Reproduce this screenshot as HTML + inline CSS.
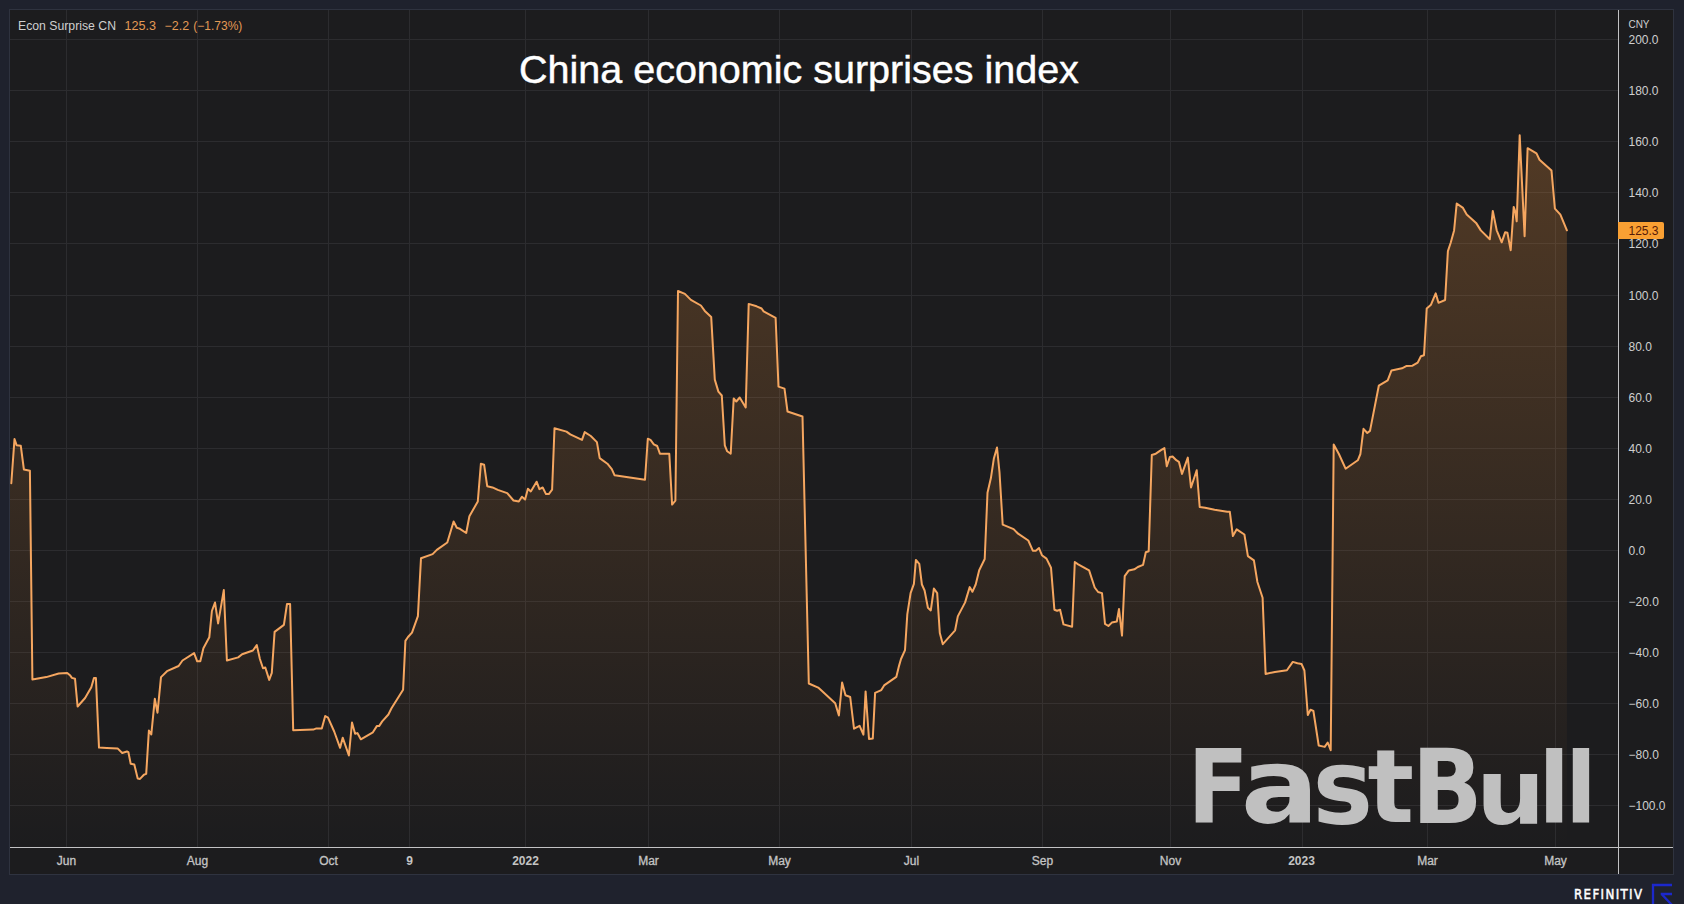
<!DOCTYPE html>
<html><head><meta charset="utf-8"><title>China economic surprises index</title>
<style>
html,body{margin:0;padding:0;width:1684px;height:904px;overflow:hidden;background:#1f222d;}
svg{display:block;position:absolute;left:0;top:0}
.t{font-family:"Liberation Sans",Arial,sans-serif;}
</style></head><body>
<svg width="1684" height="904" viewBox="0 0 1684 904">
<defs>
<linearGradient id="fg" x1="0" y1="130" x2="0" y2="847" gradientUnits="userSpaceOnUse">
<stop offset="0" stop-color="#f5953a" stop-opacity="0.25"/>
<stop offset="1" stop-color="#f5953a" stop-opacity="0"/>
</linearGradient>
</defs>
<rect x="9.5" y="9.5" width="1664" height="865" fill="#1c1c1e" stroke="#2f333f" stroke-width="1"/>
<g stroke="#2c2c2f" stroke-width="1" shape-rendering="crispEdges">
<line x1="66.5" y1="10" x2="66.5" y2="847" />
<line x1="197.5" y1="10" x2="197.5" y2="847" />
<line x1="328.5" y1="10" x2="328.5" y2="847" />
<line x1="409.5" y1="10" x2="409.5" y2="847" />
<line x1="525.5" y1="10" x2="525.5" y2="847" />
<line x1="648.5" y1="10" x2="648.5" y2="847" />
<line x1="779.5" y1="10" x2="779.5" y2="847" />
<line x1="911.5" y1="10" x2="911.5" y2="847" />
<line x1="1042.5" y1="10" x2="1042.5" y2="847" />
<line x1="1170.5" y1="10" x2="1170.5" y2="847" />
<line x1="1302.5" y1="10" x2="1302.5" y2="847" />
<line x1="1427.5" y1="10" x2="1427.5" y2="847" />
<line x1="1555.5" y1="10" x2="1555.5" y2="847" />
<line x1="10" y1="39.5" x2="1618" y2="39.5" />
<line x1="10" y1="90.5" x2="1618" y2="90.5" />
<line x1="10" y1="141.5" x2="1618" y2="141.5" />
<line x1="10" y1="192.5" x2="1618" y2="192.5" />
<line x1="10" y1="243.5" x2="1618" y2="243.5" />
<line x1="10" y1="295.5" x2="1618" y2="295.5" />
<line x1="10" y1="346.5" x2="1618" y2="346.5" />
<line x1="10" y1="397.5" x2="1618" y2="397.5" />
<line x1="10" y1="448.5" x2="1618" y2="448.5" />
<line x1="10" y1="499.5" x2="1618" y2="499.5" />
<line x1="10" y1="550.5" x2="1618" y2="550.5" />
<line x1="10" y1="601.5" x2="1618" y2="601.5" />
<line x1="10" y1="652.5" x2="1618" y2="652.5" />
<line x1="10" y1="703.5" x2="1618" y2="703.5" />
<line x1="10" y1="754.5" x2="1618" y2="754.5" />
<line x1="10" y1="805.5" x2="1618" y2="805.5" />
</g>
<path d="M10,847 L10,483.2 L11.3,483.2 L14.5,439.1 L16.6,445.2 L20.8,445.8 L23.9,469.5 L29.9,470.8 L32.4,679.4 L46.3,677.1 L58.7,673.5 L67.2,672.9 L70.3,675.6 L71.9,677.9 L75.0,678.7 L77.6,706.5 L85.1,698.0 L91.3,687.2 L94.0,677.9 L95.9,677.9 L99.0,747.6 L106.7,747.9 L117.6,748.4 L122.2,753.0 L126.9,751.5 L128.4,752.2 L130.7,763.8 L134.3,764.6 L137.7,778.6 L140.0,778.9 L143.9,774.7 L146.2,773.9 L148.9,730.5 L151.3,734.4 L154.8,698.8 L157.5,712.7 L161.0,677.1 L167.0,671.2 L178.6,666.0 L182.5,660.5 L194.1,653.1 L197.2,661.3 L200.3,661.3 L203.4,648.2 L209.3,637.3 L211.9,611.0 L215.0,602.5 L218.1,623.4 L223.8,590.1 L226.9,660.5 L238.2,657.4 L242.1,654.3 L252.9,650.5 L256.8,645.1 L259.9,659.0 L263.0,668.3 L265.3,667.5 L269.2,679.9 L271.8,672.9 L274.6,631.9 L283.9,624.9 L287.0,604.0 L290.1,604.0 L293.2,730.3 L313.3,729.6 L316.4,728.4 L321.8,728.4 L325.2,716.0 L328.0,717.6 L334.2,731.5 L340.1,747.8 L342.7,737.7 L348.9,755.5 L352.0,722.5 L355.1,733.8 L357.4,733.1 L360.8,739.3 L372.9,732.3 L376.8,726.1 L379.1,726.1 L382.2,721.4 L388.4,714.5 L391.5,708.3 L403.1,689.7 L405.4,640.9 L408.0,637.0 L412.0,632.6 L417.9,616.1 L421.0,558.3 L432.6,554.1 L436.8,549.9 L447.3,542.5 L453.6,521.5 L456.8,527.8 L459.9,528.8 L466.2,533.0 L469.4,516.2 L477.8,501.5 L480.9,463.7 L484.1,464.7 L487.2,486.2 L492.5,487.4 L497.8,489.9 L507.2,493.1 L513.5,500.5 L518.8,501.5 L521.9,496.7 L525.1,499.5 L527.9,488.7 L530.8,491.4 L536.6,481.7 L539.4,489.1 L542.7,487.5 L546.0,494.1 L548.8,494.1 L552.1,489.7 L554.5,428.3 L566.5,431.6 L570.3,434.4 L582.0,439.9 L584.7,432.1 L590.8,436.0 L596.9,442.1 L599.7,458.1 L607.4,463.7 L611.8,469.2 L614.6,475.3 L645.0,479.7 L647.8,438.8 L650.5,439.9 L653.8,444.3 L657.2,446.0 L659.9,453.7 L669.3,453.7 L672.1,504.6 L675.4,500.7 L678.0,291.0 L684.9,293.9 L688.9,297.9 L690.9,299.9 L700.9,305.5 L704.8,310.9 L711.2,316.9 L714.8,379.6 L718.4,391.6 L721.8,395.5 L724.8,445.3 L727.2,451.3 L730.7,453.7 L733.7,398.5 L736.3,401.5 L739.7,397.5 L745.7,407.5 L748.7,303.9 L756.6,306.3 L761.6,308.5 L763.6,311.3 L775.6,317.8 L778.5,386.6 L784.5,388.6 L787.5,411.5 L802.5,416.5 L808.8,683.5 L818.2,687.6 L822.0,691.0 L835.2,703.3 L838.9,715.5 L842.1,682.6 L845.5,695.2 L850.2,697.0 L854.0,728.7 L859.6,725.8 L863.4,734.7 L865.6,691.4 L869.0,739.0 L872.8,738.4 L875.1,692.9 L881.3,690.1 L884.1,685.4 L896.3,676.9 L899.1,665.6 L901.0,659.0 L905.0,650.2 L907.3,614.4 L910.6,593.1 L913.9,583.8 L915.9,559.9 L919.3,563.9 L921.9,584.5 L924.6,590.5 L927.9,607.7 L930.8,610.4 L933.9,588.5 L937.2,593.1 L939.8,633.0 L942.8,644.2 L955.1,630.3 L957.8,616.4 L965.1,602.4 L969.7,587.1 L972.4,591.8 L975.7,584.5 L979.2,570.3 L984.7,559.0 L987.5,492.8 L990.9,478.1 L993.8,458.8 L997.0,447.5 L999.5,472.4 L1002.7,524.6 L1013.6,529.1 L1018.1,533.7 L1028.3,540.5 L1032.8,550.7 L1035.8,550.7 L1039.0,548.0 L1041.9,555.2 L1046.5,558.6 L1051.0,567.7 L1054.4,609.7 L1057.1,610.8 L1060.1,609.7 L1063.5,624.4 L1072.1,626.7 L1074.8,562.0 L1078.2,564.3 L1089.1,570.4 L1094.7,587.5 L1098.1,592.0 L1102.0,593.1 L1105.0,623.8 L1108.4,626.0 L1111.8,622.6 L1116.8,621.5 L1119.0,609.0 L1122.0,635.6 L1124.7,576.1 L1128.8,570.4 L1134.4,569.3 L1137.8,567.0 L1143.1,564.8 L1145.8,552.3 L1148.7,551.2 L1151.8,455.0 L1155.8,453.7 L1161.0,450.2 L1164.4,448.1 L1166.8,466.3 L1169.9,456.9 L1172.6,456.5 L1176.3,460.2 L1178.9,461.8 L1182.0,473.9 L1187.8,457.6 L1191.0,487.5 L1196.7,470.2 L1199.7,507.0 L1205.1,507.7 L1214.6,509.8 L1227.2,511.7 L1229.8,511.7 L1232.9,536.0 L1236.7,529.3 L1244.4,534.5 L1247.9,556.1 L1253.9,560.4 L1257.4,582.0 L1262.6,597.8 L1265.6,673.9 L1274.9,671.9 L1286.9,670.3 L1292.8,661.9 L1297.5,663.2 L1301.5,663.9 L1304.4,670.5 L1307.8,715.0 L1310.5,709.7 L1313.4,711.0 L1318.7,745.5 L1324.7,746.9 L1327.7,742.5 L1330.7,750.2 L1333.7,444.5 L1338.9,454.0 L1345.6,468.7 L1357.8,460.3 L1360.4,454.0 L1363.5,428.8 L1367.3,433.0 L1370.0,430.9 L1378.8,385.7 L1387.7,380.4 L1391.5,370.4 L1402.0,368.3 L1406.2,366.1 L1412.5,365.7 L1417.7,362.6 L1420.9,356.3 L1424.0,355.2 L1426.7,308.5 L1431.0,304.7 L1435.7,293.4 L1438.5,302.8 L1445.1,300.0 L1447.9,251.1 L1450.7,242.7 L1454.1,230.4 L1456.7,203.5 L1463.0,207.9 L1466.7,214.4 L1476.1,222.9 L1480.8,230.4 L1489.8,239.3 L1492.8,210.9 L1496.7,230.3 L1501.7,242.3 L1505.2,232.2 L1507.4,232.8 L1510.7,250.2 L1513.7,206.9 L1515.2,211.3 L1516.7,221.3 L1519.7,135.2 L1524.6,236.3 L1527.6,148.2 L1536.5,153.4 L1539.5,159.7 L1551.5,170.6 L1554.9,208.6 L1560.4,214.6 L1566.9,230.3 L1566.9,847 Z" fill="url(#fg)"/>
<polyline points="11.3,483.2 14.5,439.1 16.6,445.2 20.8,445.8 23.9,469.5 29.9,470.8 32.4,679.4 46.3,677.1 58.7,673.5 67.2,672.9 70.3,675.6 71.9,677.9 75.0,678.7 77.6,706.5 85.1,698.0 91.3,687.2 94.0,677.9 95.9,677.9 99.0,747.6 106.7,747.9 117.6,748.4 122.2,753.0 126.9,751.5 128.4,752.2 130.7,763.8 134.3,764.6 137.7,778.6 140.0,778.9 143.9,774.7 146.2,773.9 148.9,730.5 151.3,734.4 154.8,698.8 157.5,712.7 161.0,677.1 167.0,671.2 178.6,666.0 182.5,660.5 194.1,653.1 197.2,661.3 200.3,661.3 203.4,648.2 209.3,637.3 211.9,611.0 215.0,602.5 218.1,623.4 223.8,590.1 226.9,660.5 238.2,657.4 242.1,654.3 252.9,650.5 256.8,645.1 259.9,659.0 263.0,668.3 265.3,667.5 269.2,679.9 271.8,672.9 274.6,631.9 283.9,624.9 287.0,604.0 290.1,604.0 293.2,730.3 313.3,729.6 316.4,728.4 321.8,728.4 325.2,716.0 328.0,717.6 334.2,731.5 340.1,747.8 342.7,737.7 348.9,755.5 352.0,722.5 355.1,733.8 357.4,733.1 360.8,739.3 372.9,732.3 376.8,726.1 379.1,726.1 382.2,721.4 388.4,714.5 391.5,708.3 403.1,689.7 405.4,640.9 408.0,637.0 412.0,632.6 417.9,616.1 421.0,558.3 432.6,554.1 436.8,549.9 447.3,542.5 453.6,521.5 456.8,527.8 459.9,528.8 466.2,533.0 469.4,516.2 477.8,501.5 480.9,463.7 484.1,464.7 487.2,486.2 492.5,487.4 497.8,489.9 507.2,493.1 513.5,500.5 518.8,501.5 521.9,496.7 525.1,499.5 527.9,488.7 530.8,491.4 536.6,481.7 539.4,489.1 542.7,487.5 546.0,494.1 548.8,494.1 552.1,489.7 554.5,428.3 566.5,431.6 570.3,434.4 582.0,439.9 584.7,432.1 590.8,436.0 596.9,442.1 599.7,458.1 607.4,463.7 611.8,469.2 614.6,475.3 645.0,479.7 647.8,438.8 650.5,439.9 653.8,444.3 657.2,446.0 659.9,453.7 669.3,453.7 672.1,504.6 675.4,500.7 678.0,291.0 684.9,293.9 688.9,297.9 690.9,299.9 700.9,305.5 704.8,310.9 711.2,316.9 714.8,379.6 718.4,391.6 721.8,395.5 724.8,445.3 727.2,451.3 730.7,453.7 733.7,398.5 736.3,401.5 739.7,397.5 745.7,407.5 748.7,303.9 756.6,306.3 761.6,308.5 763.6,311.3 775.6,317.8 778.5,386.6 784.5,388.6 787.5,411.5 802.5,416.5 808.8,683.5 818.2,687.6 822.0,691.0 835.2,703.3 838.9,715.5 842.1,682.6 845.5,695.2 850.2,697.0 854.0,728.7 859.6,725.8 863.4,734.7 865.6,691.4 869.0,739.0 872.8,738.4 875.1,692.9 881.3,690.1 884.1,685.4 896.3,676.9 899.1,665.6 901.0,659.0 905.0,650.2 907.3,614.4 910.6,593.1 913.9,583.8 915.9,559.9 919.3,563.9 921.9,584.5 924.6,590.5 927.9,607.7 930.8,610.4 933.9,588.5 937.2,593.1 939.8,633.0 942.8,644.2 955.1,630.3 957.8,616.4 965.1,602.4 969.7,587.1 972.4,591.8 975.7,584.5 979.2,570.3 984.7,559.0 987.5,492.8 990.9,478.1 993.8,458.8 997.0,447.5 999.5,472.4 1002.7,524.6 1013.6,529.1 1018.1,533.7 1028.3,540.5 1032.8,550.7 1035.8,550.7 1039.0,548.0 1041.9,555.2 1046.5,558.6 1051.0,567.7 1054.4,609.7 1057.1,610.8 1060.1,609.7 1063.5,624.4 1072.1,626.7 1074.8,562.0 1078.2,564.3 1089.1,570.4 1094.7,587.5 1098.1,592.0 1102.0,593.1 1105.0,623.8 1108.4,626.0 1111.8,622.6 1116.8,621.5 1119.0,609.0 1122.0,635.6 1124.7,576.1 1128.8,570.4 1134.4,569.3 1137.8,567.0 1143.1,564.8 1145.8,552.3 1148.7,551.2 1151.8,455.0 1155.8,453.7 1161.0,450.2 1164.4,448.1 1166.8,466.3 1169.9,456.9 1172.6,456.5 1176.3,460.2 1178.9,461.8 1182.0,473.9 1187.8,457.6 1191.0,487.5 1196.7,470.2 1199.7,507.0 1205.1,507.7 1214.6,509.8 1227.2,511.7 1229.8,511.7 1232.9,536.0 1236.7,529.3 1244.4,534.5 1247.9,556.1 1253.9,560.4 1257.4,582.0 1262.6,597.8 1265.6,673.9 1274.9,671.9 1286.9,670.3 1292.8,661.9 1297.5,663.2 1301.5,663.9 1304.4,670.5 1307.8,715.0 1310.5,709.7 1313.4,711.0 1318.7,745.5 1324.7,746.9 1327.7,742.5 1330.7,750.2 1333.7,444.5 1338.9,454.0 1345.6,468.7 1357.8,460.3 1360.4,454.0 1363.5,428.8 1367.3,433.0 1370.0,430.9 1378.8,385.7 1387.7,380.4 1391.5,370.4 1402.0,368.3 1406.2,366.1 1412.5,365.7 1417.7,362.6 1420.9,356.3 1424.0,355.2 1426.7,308.5 1431.0,304.7 1435.7,293.4 1438.5,302.8 1445.1,300.0 1447.9,251.1 1450.7,242.7 1454.1,230.4 1456.7,203.5 1463.0,207.9 1466.7,214.4 1476.1,222.9 1480.8,230.4 1489.8,239.3 1492.8,210.9 1496.7,230.3 1501.7,242.3 1505.2,232.2 1507.4,232.8 1510.7,250.2 1513.7,206.9 1515.2,211.3 1516.7,221.3 1519.7,135.2 1524.6,236.3 1527.6,148.2 1536.5,153.4 1539.5,159.7 1551.5,170.6 1554.9,208.6 1560.4,214.6 1566.9,230.3" fill="none" stroke="#f5a660" stroke-width="2" stroke-linejoin="round" stroke-linecap="round"/>
<g shape-rendering="crispEdges" stroke="#c2c2c4" stroke-width="1">
<line x1="1618.5" y1="10" x2="1618.5" y2="874"/>
<line x1="10" y1="847.5" x2="1673" y2="847.5"/>
</g>
<g class="t" font-size="12" fill="#cfcfcf">
<text x="1628.5" y="28" font-size="11.5" textLength="21" lengthAdjust="spacingAndGlyphs">CNY</text>
<text x="1628.5" y="43.8">200.0</text>
<text x="1628.5" y="94.8">180.0</text>
<text x="1628.5" y="145.8">160.0</text>
<text x="1628.5" y="196.8">140.0</text>
<text x="1628.5" y="247.8">120.0</text>
<text x="1628.5" y="299.8">100.0</text>
<text x="1628.5" y="350.8">80.0</text>
<text x="1628.5" y="401.8">60.0</text>
<text x="1628.5" y="452.8">40.0</text>
<text x="1628.5" y="503.8">20.0</text>
<text x="1628.5" y="554.8">0.0</text>
<text x="1628.5" y="605.8">−20.0</text>
<text x="1628.5" y="656.8">−40.0</text>
<text x="1628.5" y="707.8">−60.0</text>
<text x="1628.5" y="758.8">−80.0</text>
<text x="1628.5" y="809.8">−100.0</text>
</g>
<g class="t" font-size="12" fill="#c4c4c4" stroke="#c4c4c4" stroke-width="0.3">
<text x="66.5" y="865" text-anchor="middle">Jun</text>
<text x="197.5" y="865" text-anchor="middle">Aug</text>
<text x="328.5" y="865" text-anchor="middle">Oct</text>
<text x="409.5" y="865" text-anchor="middle" font-weight="bold" stroke-width="0">9</text>
<text x="525.5" y="865" text-anchor="middle" font-weight="bold" stroke-width="0">2022</text>
<text x="648.5" y="865" text-anchor="middle">Mar</text>
<text x="779.5" y="865" text-anchor="middle">May</text>
<text x="911.5" y="865" text-anchor="middle">Jul</text>
<text x="1042.5" y="865" text-anchor="middle">Sep</text>
<text x="1170.5" y="865" text-anchor="middle">Nov</text>
<text x="1301.5" y="865" text-anchor="middle" font-weight="bold" stroke-width="0">2023</text>
<text x="1427.5" y="865" text-anchor="middle">Mar</text>
<text x="1555.5" y="865" text-anchor="middle">May</text>
</g>
<path d="M1618,222 H1662 A2,2 0 0 1 1664,224 V237 A2,2 0 0 1 1662,239 H1618 Z" fill="#f9a033"/>
<text class="t" x="1628.5" y="235.3" font-size="12" fill="#561a08">125.3</text>
<g class="t" font-size="12">
<text x="18" y="30" fill="#cfcfcf" textLength="98" lengthAdjust="spacingAndGlyphs">Econ Surprise CN</text>
<text x="124.5" y="30" fill="#e39a55" textLength="31.5" lengthAdjust="spacingAndGlyphs">125.3</text>
<text x="164.5" y="30" fill="#e39a55" textLength="24.6" lengthAdjust="spacingAndGlyphs">−2.2</text>
<text x="193.3" y="30" fill="#e39a55" textLength="49" lengthAdjust="spacingAndGlyphs">(−1.73%)</text>
</g>
<text class="t" x="519" y="83" font-size="39.5" fill="#ffffff" stroke="#ffffff" stroke-width="0.45">China economic surprises index</text>
<text font-family="DejaVu Sans,sans-serif" font-weight="bold" fill="#c0c0c0"><tspan x="1187.47" y="822.40" font-size="102.19" textLength="61.27" lengthAdjust="spacingAndGlyphs">F</tspan><tspan x="1240.71" y="823.21" font-size="105.19" textLength="78.31" lengthAdjust="spacingAndGlyphs">a</tspan><tspan x="1312.43" y="823.50" font-size="105.71" textLength="60.59" lengthAdjust="spacingAndGlyphs">s</tspan><tspan x="1367.62" y="822.40" font-size="102.12" textLength="46.52" lengthAdjust="spacingAndGlyphs">t</tspan><tspan x="1411.66" y="822.80" font-size="102.47" textLength="70.87" lengthAdjust="spacingAndGlyphs">B</tspan><tspan x="1476.10" y="823.61" font-size="91.08" textLength="69.27" lengthAdjust="spacingAndGlyphs">u</tspan><tspan x="1538.41" y="822.80" font-size="98.32" textLength="31.37" lengthAdjust="spacingAndGlyphs">l</tspan><tspan x="1564.97" y="822.80" font-size="98.32" textLength="31.96" lengthAdjust="spacingAndGlyphs">l</tspan></text>
<text x="1574" y="899" font-family="DejaVu Sans Condensed,DejaVu Sans,sans-serif" font-size="13.2" fill="#ffffff" stroke="#ffffff" stroke-width="0.45" letter-spacing="1.35">REFINITIV</text>
<g fill="none" stroke="#1c28cc" stroke-width="2.3">
<path d="M1653,905 V885 H1672"/>
<path d="M1660.7,894 H1672 M1661.5,894 L1672,905"/>
</g>
</svg>
</body></html>
